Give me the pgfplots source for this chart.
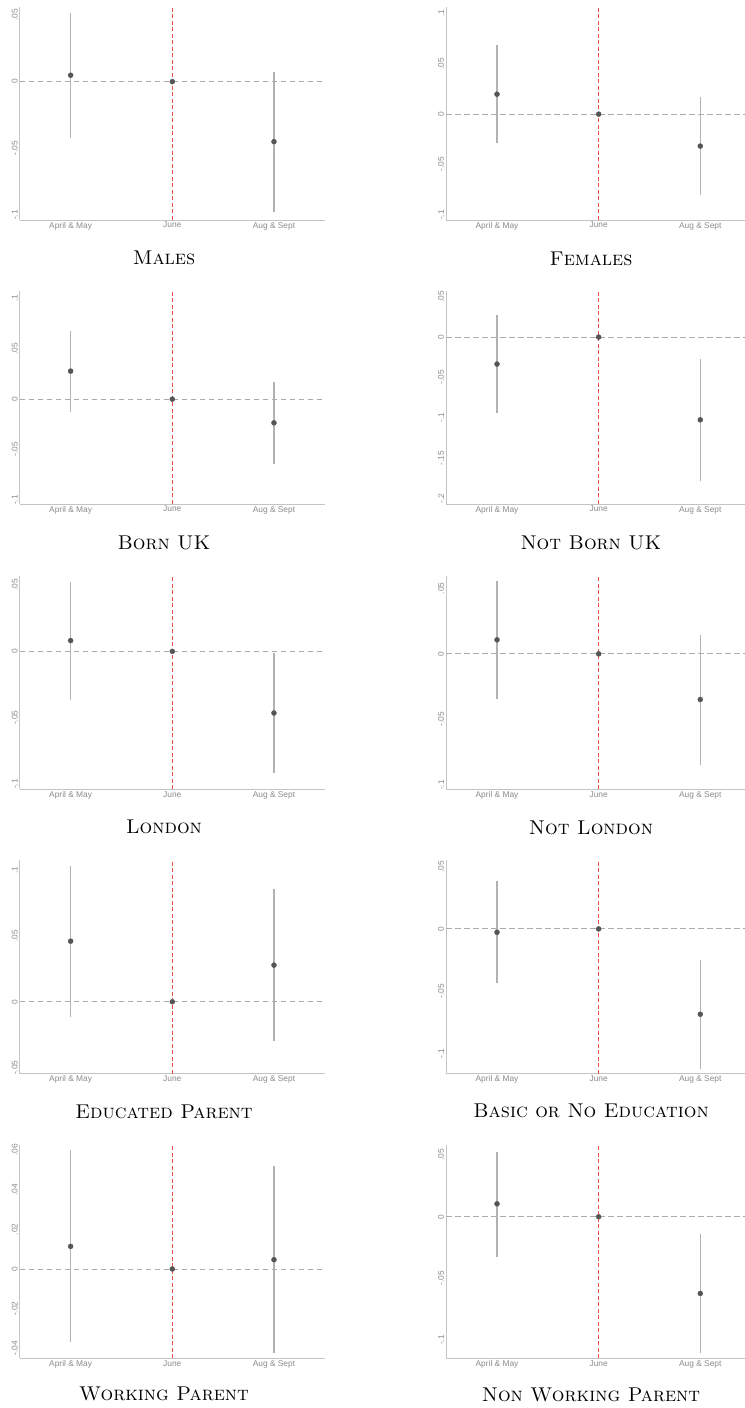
\documentclass[border=0pt]{standalone}
\usepackage{fontspec}
\usepackage{pgfplots}
\pgfplotsset{compat=1.18}
\newfontfamily\ticksf{Liberation Sans}
\definecolor{axgray}{HTML}{C4C4C4}
\definecolor{tkgray}{HTML}{8A8A8A}
\definecolor{zgray}{HTML}{ABABAB}
\definecolor{cigray}{HTML}{B2B2B2}
\definecolor{ptgray}{HTML}{555555}
\definecolor{redl}{HTML}{EE4B45}
\pgfplotsset{
  panel/.style={
    scale only axis, height=213.3bp,
    xmin=-0.5, xtick={0,1,2}, xticklabels={April \& May, June, Aug \& Sept},
    scaled y ticks=false,
    axis x line*=bottom, axis y line*=left,
    axis line style={-, draw=axgray, line width=0.9bp},
    major tick length=0pt, minor tick num=0,
    tick label style={font=\ticksf\fontsize{8.4}{10}\selectfont, text=tkgray},
    yticklabel style={rotate=90, anchor=south, inner sep=2bp},
    xticklabel style={anchor=north, inner sep=2bp},
    anchor=south west,
  },
  L/.style={panel, width=305bp, xmax=2.5},
  R/.style={panel, width=298.8bp, xmax=2.44},
}
\newcommand\panel[7]{%
\begin{axis}[#1]
\addplot[draw=zgray, line width=1bp, dash pattern=on 5.5bp off 3.5bp] coordinates {(-0.5,0) (2.5,0)};
\draw[draw=redl, line width=1.1bp, dash pattern=on 4bp off 2.5bp] ({axis cs:1,0}|-{rel axis cs:0,0}) -- ({axis cs:1,0}|-{rel axis cs:0,1});
\addplot[draw=cigray, line width=1.3bp] coordinates {(0,#3) (0,#4)};
\addplot[draw=cigray, line width=1.3bp] coordinates {(2,#6) (2,#7)};
\addplot[only marks, mark=*, mark size=2.5bp, mark options={fill=ptgray, draw=ptgray}] coordinates {(0,#2) (1,0) (2,#5)};
\end{axis}}
\newcommand\pcap[3]{\node[anchor=base, font=\fontsize{20}{24}\selectfont] at (#1bp,#2bp) {\textsc{#3}};}
\begin{document}
\begin{tikzpicture}
\useasboundingbox (0bp,0bp) rectangle (745bp,1408bp);
% Row 1 (bottom at img 220)
\panel{L, at={(19.8bp,1188bp)}, ymin=-0.10375, ymax=0.0562, ytick={-0.1,-0.05,0,0.05}, yticklabels={-.1,-.05,0,.05}}
  {0.0048}{-0.0425}{0.0518}{-0.045}{-0.0975}{0.0075}
\panel{R, at={(446.2bp,1188bp)}, ymin=-0.105, ymax=0.1066, ytick={-0.1,-0.05,0,0.05,0.1}, yticklabels={-.1,-.05,0,.05,.1}}
  {0.0198}{-0.029}{0.0685}{-0.0317}{-0.0803}{0.0172}
% Row 2 (bottom at img 504)
\panel{L, at={(19.8bp,904bp)}, ymin=-0.104, ymax=0.1076, ytick={-0.1,-0.05,0,0.05,0.1}, yticklabels={-.1,-.05,0,.05,.1}}
  {0.0278}{-0.0126}{0.0675}{-0.0235}{-0.064}{0.0172}
\panel{R, at={(446.2bp,904bp)}, ymin=-0.207, ymax=0.0575, ytick={-0.2,-0.15,-0.1,-0.05,0,0.05}, yticklabels={-.2,-.15,-.1,-.05,0,.05}}
  {-0.0335}{-0.0943}{0.0268}{-0.1026}{-0.179}{-0.0269}
% Row 3 (bottom at img 789.3)
\panel{L, at={(19.8bp,618.7bp)}, ymin=-0.104, ymax=0.0568, ytick={-0.1,-0.05,0,0.05}, yticklabels={-.1,-.05,0,.05}}
  {0.0081}{-0.037}{0.0523}{-0.0465}{-0.0918}{-0.0013}
\panel{R, at={(446.2bp,618.7bp)}, ymin=-0.1033, ymax=0.0594, ytick={-0.1,-0.05,0,0.05}, yticklabels={-.1,-.05,0,.05}}
  {0.0107}{-0.0348}{0.0553}{-0.0348}{-0.0849}{0.0147}
% Row 4 (bottom at img 1073.7)
\panel{L, at={(19.8bp,334.3bp)}, ymin=-0.0546, ymax=0.1073, ytick={-0.05,0,0.05,0.1}, yticklabels={-.05,0,.05,.1}}
  {0.046}{-0.0114}{0.103}{0.0278}{-0.030}{0.0856}
\panel{R, at={(446.2bp,334.3bp)}, ymin=-0.1164, ymax=0.0551, ytick={-0.1,-0.05,0,0.05}, yticklabels={-.1,-.05,0,.05}}
  {-0.0027}{-0.0437}{0.0386}{-0.0686}{-0.1129}{-0.0249}
% Row 5 (bottom at img 1358.3)
\panel{L, at={(19.8bp,49.7bp)}, ymin=-0.045, ymax=0.0625, ytick={-0.04,-0.02,0,0.02,0.04,0.06}, yticklabels={-.04,-.02,0,.02,.04,.06}}
  {0.0114}{-0.0368}{0.0598}{0.0047}{-0.0423}{0.0517}
\panel{R, at={(446.2bp,49.7bp)}, ymin=-0.1148, ymax=0.0582, ytick={-0.1,-0.05,0,0.05}, yticklabels={-.1,-.05,0,.05}}
  {0.0105}{-0.0324}{0.0529}{-0.0622}{-0.1107}{-0.014}
% Captions
\pcap{164}{1143}{Males}
\pcap{591}{1142.5}{Females}
\pcap{164}{858.7}{Born UK}
\pcap{591}{858.7}{Not Born UK}
\pcap{164}{574}{London}
\pcap{591}{573.7}{Not London}
\pcap{164}{289.7}{Educated Parent}
\pcap{591}{290.3}{Basic or No Education}
\pcap{164}{7.3}{Working Parent}
\pcap{591}{6.3}{Non Working Parent}
\end{tikzpicture}
\end{document}
